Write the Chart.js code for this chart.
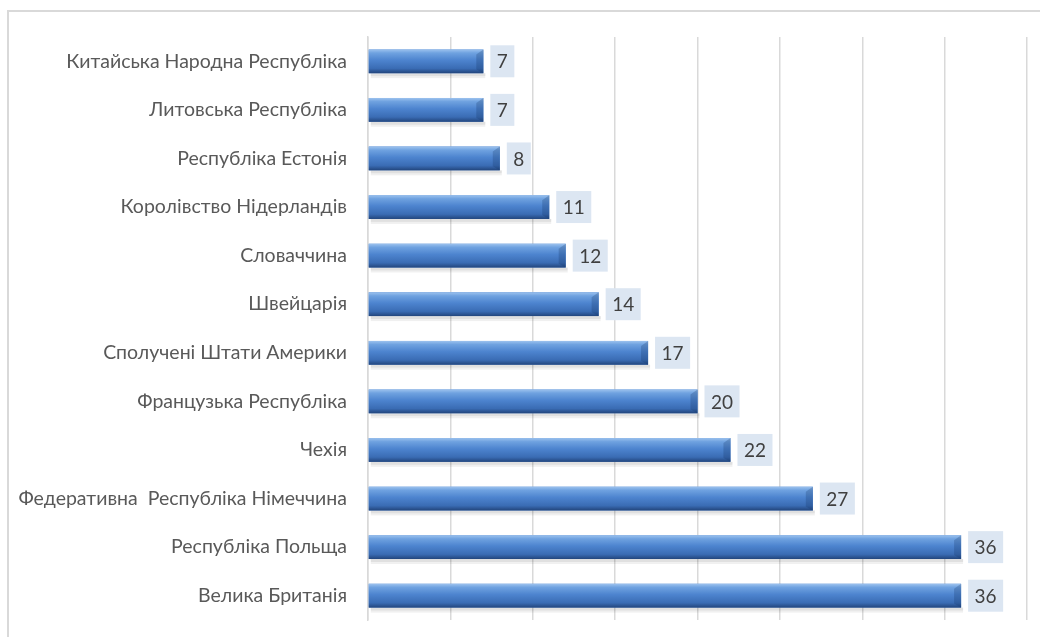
<!DOCTYPE html>
<html>
<head>
<meta charset="utf-8">
<script src="https://cdn.jsdelivr.net/npm/chart.js@4/dist/chart.umd.min.js"></script>
<style>
  body { margin: 0; background: #fff; }
  #wrap { position: relative; width: 1040px; height: 637px; overflow: hidden; }
  #frame { position: absolute; left: 7px; top: 10px; width: 1100px; height: 700px; border: 2px solid #d9d9d9; box-sizing: border-box; }
  canvas { position: absolute; left: 0; top: 0; }
</style>
</head>
<body>
<div id="wrap">
  <div id="frame"></div>
  <canvas id="chart" width="1040" height="637"></canvas>
</div>
<script>
const countries = [
  'Китайська Народна Республіка',
  'Литовська Республіка',
  'Республіка Естонія',
  'Королівство Нідерландів',
  'Словаччина',
  'Швейцарія',
  'Сполучені Штати Америки',
  'Французька Республіка',
  'Чехія',
  'Федеративна  Республіка Німеччина',
  'Республіка Польща',
  'Велика Британія'
];
const counts = [7, 7, 8, 11, 12, 14, 17, 20, 22, 27, 36, 36];

const FONT = 'Lato, "Open Sans", sans-serif';

// bevelled gradient bars + shadow
const barStyle = {
  id: 'barStyle',
  afterDatasetDraw(chart) {
    const ctx = chart.ctx;
    chart.getDatasetMeta(0).data.forEach(bar => {
      const top = bar.y - bar.height / 2;
      const h = bar.height;
      const left = bar.base;
      const w = bar.x - bar.base;
      ctx.save();
      // shadow
      ctx.fillStyle = 'rgba(0,0,0,0.12)';
      ctx.fillRect(left + 2, top + h, w, 3);
      ctx.fillStyle = 'rgba(0,0,0,0.06)';
      ctx.fillRect(left + 2, top + h + 3, w, 2);
      const g = ctx.createLinearGradient(0, top, 0, top + h);
      g.addColorStop(0, '#9cc2ee');
      g.addColorStop(0.15, '#6fa2e0');
      g.addColorStop(0.45, '#4d84cf');
      g.addColorStop(0.8, '#3a6cb4');
      g.addColorStop(1, '#22457c');
      ctx.fillStyle = g;
      ctx.fillRect(left, top, w, h);
      // right bevel
      ctx.beginPath();
      ctx.moveTo(bar.x, top);
      ctx.lineTo(bar.x - 7, top + 5);
      ctx.lineTo(bar.x - 7, top + h - 4);
      ctx.lineTo(bar.x, top + h);
      ctx.closePath();
      ctx.fillStyle = 'rgba(20,50,100,0.25)';
      ctx.fill();
      ctx.restore();
    });
  }
};

// value boxes at bar ends
const valueBoxes = {
  id: 'valueBoxes',
  afterDatasetsDraw(chart) {
    const ctx = chart.ctx;
    ctx.save();
    ctx.font = '19px ' + FONT;
    ctx.textAlign = 'center';
    ctx.textBaseline = 'middle';
    chart.getDatasetMeta(0).data.forEach((bar, i) => {
      const txt = String(counts[i]);
      const w = ctx.measureText(txt).width + 13;
      const x = bar.x + 7;
      ctx.fillStyle = '#dce6f2';
      ctx.fillRect(x, bar.y - 16, w, 32);
      ctx.fillStyle = '#404040';
      ctx.fillText(txt, x + w / 2, bar.y + 1);
    });
    ctx.restore();
  }
};

new Chart(document.getElementById('chart').getContext('2d'), {
  type: 'bar',
  data: {
    labels: countries,
    datasets: [{
      data: counts,
      backgroundColor: '#4a80cc',
      borderWidth: 0,
      categoryPercentage: 1,
      barPercentage: 0.49
    }]
  },
  options: {
    indexAxis: 'y',
    responsive: false,
    animation: false,
    layout: { padding: { top: 37, bottom: 17, right: 13, left: 0 } },
    plugins: { legend: { display: false }, tooltip: { enabled: false } },
    scales: {
      x: {
        min: 0, max: 40,
        afterFit(scale) { scale.height = 0; scale.paddingLeft = 0; scale.paddingRight = 0; },
        ticks: { display: false, stepSize: 5 },
        grid: { color: '#d9d9d9', lineWidth: 1.5, drawTicks: false },
        border: { display: false }
      },
      y: {
        afterFit(scale) { scale.width = 368; scale.paddingTop = 0; scale.paddingBottom = 0; },
        grid: { display: false, drawTicks: false },
        border: { display: true, color: '#d9d9d9', width: 1.5 },
        ticks: {
          padding: 21,
          color: '#595959',
          font: { family: FONT, size: 19.5 }
        }
      }
    }
  },
  plugins: [barStyle, valueBoxes]
});
</script>
</body>
</html>
